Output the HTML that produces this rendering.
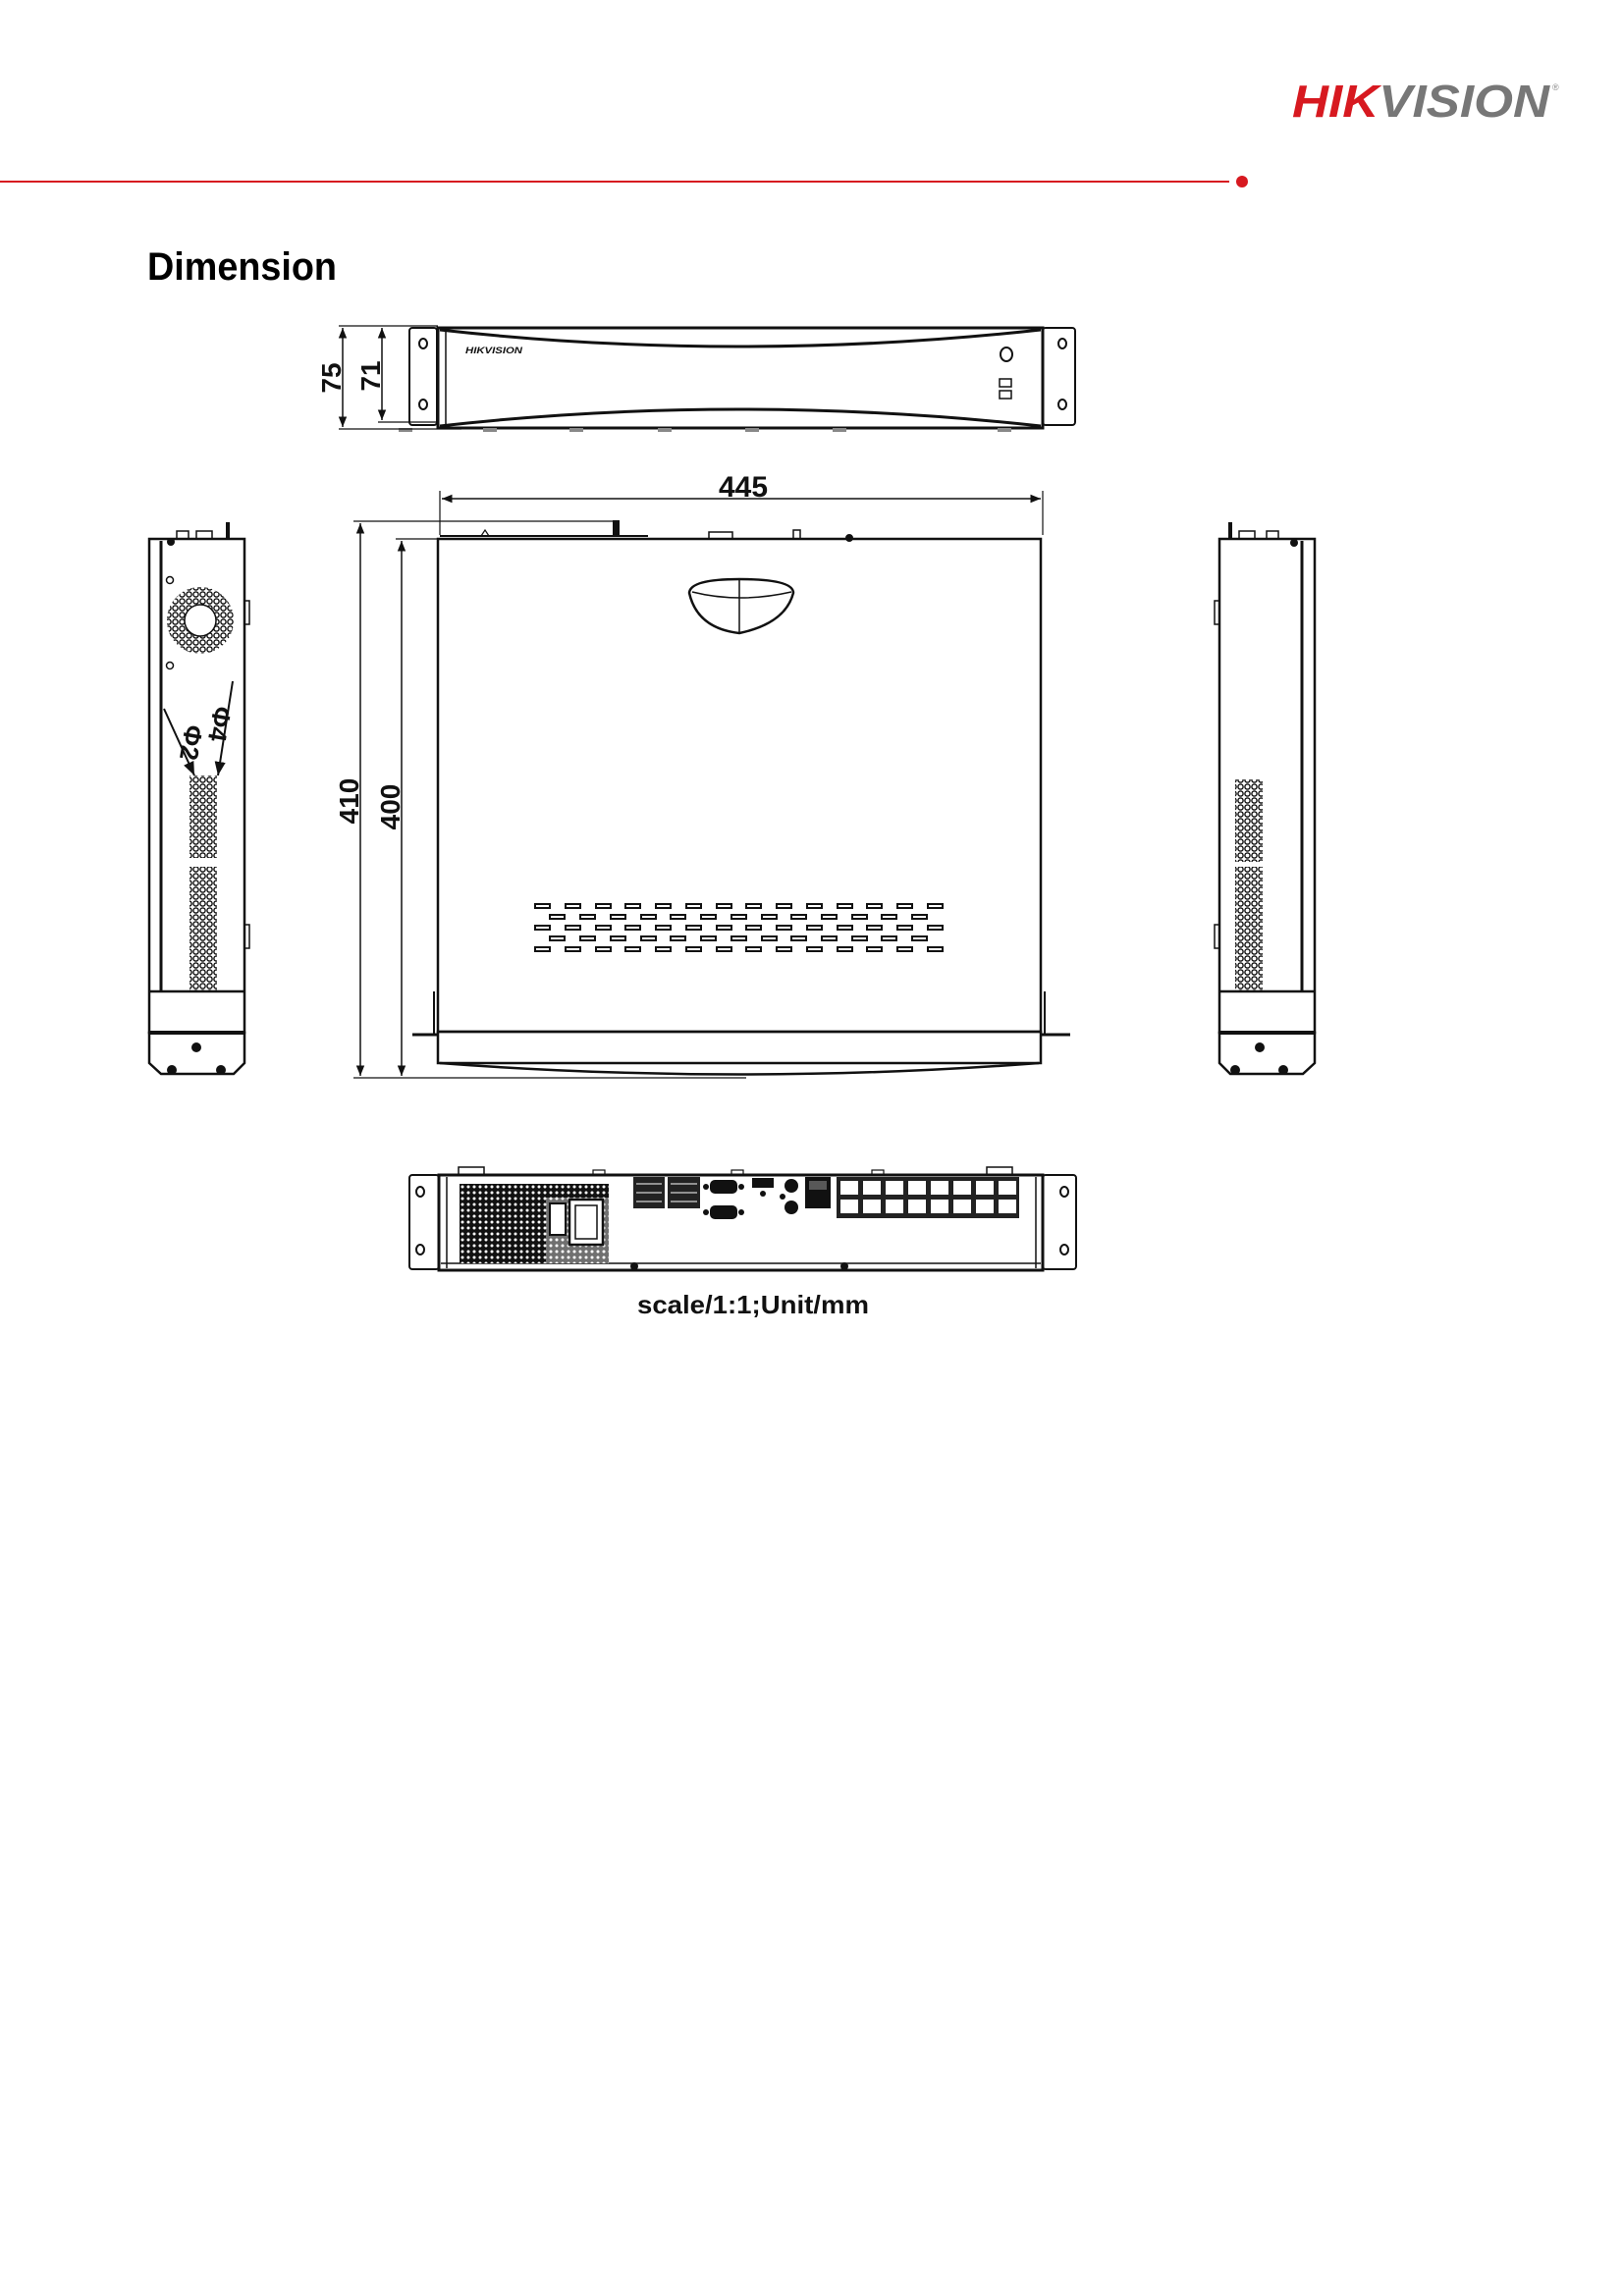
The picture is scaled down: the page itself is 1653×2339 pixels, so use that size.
<!DOCTYPE html>
<html><head><meta charset="utf-8"><style>
html,body{margin:0;padding:0;background:#fff;}
svg{display:block;}
</style></head><body>
<svg width="1653" height="2339" viewBox="0 0 1653 2339" xmlns="http://www.w3.org/2000/svg" font-family="Liberation Sans, Arial, sans-serif">
<defs>
<pattern id="holes" x="0" y="0" width="7" height="7" patternUnits="userSpaceOnUse">
<circle cx="3.5" cy="3.5" r="2.6" fill="none" stroke="#111" stroke-width="1.4"/>
</pattern>
<pattern id="psu" x="0" y="0" width="6" height="6" patternUnits="userSpaceOnUse">
<rect width="6" height="6" fill="#111"/><circle cx="3" cy="3" r="1.5" fill="#fff"/>
</pattern>
<marker id="ah" viewBox="0 0 10 10" refX="10" refY="5" markerWidth="7" markerHeight="7" orient="auto-start-reverse"><path d="M0,1 L10,5 L0,9 z" fill="#111"/></marker>
</defs>

<text x="1316" y="119" font-size="46" font-weight="bold" font-style="italic" textLength="262" lengthAdjust="spacingAndGlyphs"><tspan fill="#d71920">HIK</tspan><tspan fill="#777">VISION</tspan></text>
<text x="1581" y="92" font-size="9" fill="#888">®</text>

<line x1="0" y1="185" x2="1252" y2="185" stroke="#d71920" stroke-width="2"/>
<circle cx="1265" cy="185" r="6" fill="#d71920"/>

<text x="150" y="285" font-size="40" font-weight="bold" fill="#000" textLength="193" lengthAdjust="spacingAndGlyphs">Dimension</text>

<g stroke="#111" fill="none" stroke-width="2">
<rect x="417" y="334" width="28" height="99" rx="3"/>
<rect x="1062" y="334" width="33" height="99" rx="3"/>
<ellipse cx="431" cy="350" rx="4" ry="5"/><ellipse cx="431" cy="412" rx="4" ry="5"/>
<ellipse cx="1082" cy="350" rx="4" ry="5"/><ellipse cx="1082" cy="412" rx="4" ry="5"/>
<rect x="446" y="334" width="616" height="102" stroke-width="3"/>
<path d="M448,336 Q750,370 1060,336" stroke-width="3"/>
<path d="M448,434 Q750,400 1060,434" stroke-width="3"/>
<line x1="454" y1="336" x2="454" y2="434" stroke-width="1.5"/>
<ellipse cx="1025" cy="361" rx="6" ry="7"/>
<rect x="1018" y="386" width="12" height="8" stroke-width="1.5"/><rect x="1018" y="398" width="12" height="8" stroke-width="1.5"/>
<g fill="#888" stroke="none"><rect x="406" y="436" width="14" height="4"/><rect x="492" y="436" width="14" height="4"/><rect x="580" y="436" width="14" height="4"/><rect x="670" y="436" width="14" height="4"/><rect x="759" y="436" width="14" height="4"/><rect x="848" y="436" width="14" height="4"/><rect x="1016" y="436" width="14" height="4"/></g>
<line x1="345" y1="332" x2="446" y2="332" stroke-width="1.2"/>
<line x1="345" y1="437" x2="470" y2="437" stroke-width="1.2"/>
<line x1="385" y1="430" x2="446" y2="430" stroke-width="1.2"/>
<line x1="349" y1="334" x2="349" y2="435" stroke-width="1.5" marker-start="url(#ah)" marker-end="url(#ah)"/>
<line x1="389" y1="334" x2="389" y2="428" stroke-width="1.5" marker-start="url(#ah)" marker-end="url(#ah)"/>
</g>
<text x="474" y="360" font-size="9" font-weight="bold" font-style="italic" fill="#111" textLength="58" lengthAdjust="spacingAndGlyphs">HIKVISION</text>
<text transform="translate(347,385) rotate(-90)" font-size="28" font-weight="bold" text-anchor="middle" fill="#111">75</text>
<text transform="translate(387,383) rotate(-90)" font-size="28" font-weight="bold" text-anchor="middle" fill="#111">71</text>

<g stroke="#111" fill="none" stroke-width="2">
<line x1="448" y1="500" x2="448" y2="545" stroke-width="1.2"/>
<line x1="1062" y1="500" x2="1062" y2="545" stroke-width="1.2"/>
<line x1="450" y1="508" x2="1060" y2="508" stroke-width="1.5" marker-start="url(#ah)" marker-end="url(#ah)"/>
<line x1="360" y1="531" x2="630" y2="531" stroke-width="1.2"/>
<line x1="403" y1="549" x2="446" y2="549" stroke-width="1.2"/>
<line x1="360" y1="1098" x2="760" y2="1098" stroke-width="1.2"/>
<line x1="367" y1="533" x2="367" y2="1096" stroke-width="1.5" marker-start="url(#ah)" marker-end="url(#ah)"/>
<line x1="409" y1="551" x2="409" y2="1096" stroke-width="1.5" marker-start="url(#ah)" marker-end="url(#ah)"/>
<rect x="446" y="549" width="614" height="502" stroke-width="2.5"/>
<rect x="446" y="1051" width="614" height="32" stroke-width="2.5"/>
<path d="M448,1083 Q753,1106 1058,1083" stroke-width="2.5"/>
<line x1="420" y1="1054" x2="446" y2="1054" stroke-width="3"/><line x1="1060" y1="1054" x2="1090" y2="1054" stroke-width="3"/>
<line x1="442" y1="1010" x2="442" y2="1054" stroke-width="2"/><line x1="1064" y1="1010" x2="1064" y2="1054" stroke-width="2"/>
<line x1="448" y1="546" x2="660" y2="546" stroke-width="2"/>
<rect x="625" y="531" width="5" height="15" fill="#111"/>
<path d="M490,546 L494,540 L498,546" stroke-width="1.2"/>
<rect x="722" y="542" width="24" height="7" stroke-width="1.5"/>
<rect x="808" y="540" width="7" height="9" stroke-width="1.5"/>
<circle cx="865" cy="548" r="3" fill="#111"/>
<path d="M702,604 Q703,590 753,590 Q808,590 808,604 Q800,635 753,645 Q710,640 702,604 Z" stroke-width="2.5"/>
<path d="M705,603 Q753,615 806,603" stroke-width="1.5"/>
<line x1="753" y1="590" x2="753" y2="645" stroke-width="1.5"/>
</g>
<g fill="none" stroke="#111" stroke-width="2">
<g id="rowA">
<rect x="545" y="921" width="15" height="4"/><rect x="576" y="921" width="15" height="4"/><rect x="607" y="921" width="15" height="4"/><rect x="637" y="921" width="15" height="4"/><rect x="668" y="921" width="15" height="4"/><rect x="699" y="921" width="15" height="4"/><rect x="730" y="921" width="15" height="4"/><rect x="760" y="921" width="15" height="4"/><rect x="791" y="921" width="15" height="4"/><rect x="822" y="921" width="15" height="4"/><rect x="853" y="921" width="15" height="4"/><rect x="883" y="921" width="15" height="4"/><rect x="914" y="921" width="15" height="4"/><rect x="945" y="921" width="15" height="4"/>
</g>
<use href="#rowA" y="22"/>
<use href="#rowA" y="44"/>
<g id="rowB">
<rect x="560" y="932" width="15" height="4"/><rect x="591" y="932" width="15" height="4"/><rect x="622" y="932" width="15" height="4"/><rect x="653" y="932" width="15" height="4"/><rect x="683" y="932" width="15" height="4"/><rect x="714" y="932" width="15" height="4"/><rect x="745" y="932" width="15" height="4"/><rect x="776" y="932" width="15" height="4"/><rect x="806" y="932" width="15" height="4"/><rect x="837" y="932" width="15" height="4"/><rect x="868" y="932" width="15" height="4"/><rect x="898" y="932" width="15" height="4"/><rect x="929" y="932" width="15" height="4"/>
</g>
<use href="#rowB" y="22"/>
</g>
<text transform="translate(365,816) rotate(-90)" font-size="28" font-weight="bold" text-anchor="middle" fill="#111">410</text>
<text transform="translate(407,822) rotate(-90)" font-size="28" font-weight="bold" text-anchor="middle" fill="#111">400</text>
<text x="757" y="506" font-size="30" font-weight="bold" text-anchor="middle" fill="#111" textLength="50" lengthAdjust="spacingAndGlyphs">445</text>

<g stroke="#111" fill="none" stroke-width="2.5">
<rect x="152" y="549" width="97" height="503"/>
<line x1="164" y1="551" x2="164" y2="1010" stroke-width="3"/>
<line x1="152" y1="1010" x2="249" y2="1010"/>
<path d="M152,1052 L249,1052 L249,1083 L238,1094 L164,1094 L152,1083 Z"/>
<line x1="152" y1="1052" x2="249" y2="1052" stroke-width="4"/>
<rect x="249" y="612" width="5" height="24" stroke-width="1.5"/><rect x="249" y="942" width="5" height="24" stroke-width="1.5"/>
<rect x="180" y="541" width="12" height="8" stroke-width="1.5"/><rect x="200" y="541" width="16" height="8" stroke-width="1.5"/>
<line x1="232" y1="532" x2="232" y2="549" stroke-width="4"/>
<circle cx="173" cy="591" r="3.5" stroke-width="1.5"/>
<circle cx="173" cy="678" r="3.5" stroke-width="1.5"/>
</g>
<circle cx="204" cy="632" r="25" fill="none" stroke="url(#holes)" stroke-width="18"/>
<circle cx="204" cy="632" r="16" fill="none" stroke="#111" stroke-width="1.5"/>
<circle cx="174" cy="552" r="4" fill="#111"/>
<rect x="193" y="790" width="28" height="84" fill="url(#holes)"/>
<rect x="193" y="883" width="28" height="127" fill="url(#holes)"/>
<circle cx="200" cy="1067" r="5" fill="#111"/><circle cx="175" cy="1090" r="5" fill="#111"/><circle cx="225" cy="1090" r="5" fill="#111"/>
<g stroke="#111" stroke-width="2">
<line x1="167" y1="722" x2="198" y2="790" marker-end="url(#ah)"/>
<line x1="237" y1="694" x2="222" y2="790" marker-end="url(#ah)"/>
</g>
<text transform="translate(186,755) rotate(100)" font-size="26" font-weight="bold" text-anchor="middle" fill="#111">Φ2</text>
<text transform="translate(215,736) rotate(100)" font-size="26" font-weight="bold" text-anchor="middle" fill="#111">Φ4</text>

<g stroke="#111" fill="none" stroke-width="2.5">
<rect x="1242" y="549" width="97" height="503"/>
<line x1="1326" y1="551" x2="1326" y2="1010" stroke-width="3"/>
<line x1="1242" y1="1010" x2="1339" y2="1010"/>
<path d="M1242,1052 L1339,1052 L1339,1083 L1327,1094 L1253,1094 L1242,1083 Z"/>
<line x1="1242" y1="1052" x2="1339" y2="1052" stroke-width="4"/>
<rect x="1237" y="612" width="5" height="24" stroke-width="1.5"/><rect x="1237" y="942" width="5" height="24" stroke-width="1.5"/>
<rect x="1262" y="541" width="16" height="8" stroke-width="1.5"/><rect x="1290" y="541" width="12" height="8" stroke-width="1.5"/>
<line x1="1253" y1="532" x2="1253" y2="549" stroke-width="4"/>
</g>
<circle cx="1318" cy="553" r="4" fill="#111"/>
<rect x="1258" y="794" width="28" height="84" fill="url(#holes)"/>
<rect x="1258" y="883" width="28" height="127" fill="url(#holes)"/>
<circle cx="1283" cy="1067" r="5" fill="#111"/><circle cx="1258" cy="1090" r="5" fill="#111"/><circle cx="1307" cy="1090" r="5" fill="#111"/>

<g stroke="#111" fill="none" stroke-width="2">
<rect x="417" y="1197" width="30" height="96" rx="3"/>
<rect x="1062" y="1197" width="34" height="96" rx="3"/>
<ellipse cx="428" cy="1214" rx="4" ry="5"/><ellipse cx="428" cy="1273" rx="4" ry="5"/>
<ellipse cx="1084" cy="1214" rx="4" ry="5"/><ellipse cx="1084" cy="1273" rx="4" ry="5"/>
<rect x="447" y="1197" width="615" height="97" stroke-width="3"/>
<line x1="455" y1="1199" x2="455" y2="1292" stroke-width="1.5"/><line x1="1055" y1="1199" x2="1055" y2="1292" stroke-width="1.5"/>
<line x1="449" y1="1287" x2="1060" y2="1287" stroke-width="1.5"/>
<rect x="467" y="1189" width="26" height="8" stroke-width="1.5"/><rect x="1005" y="1189" width="26" height="8" stroke-width="1.5"/>
<rect x="604" y="1192" width="12" height="5" stroke-width="1.2"/><rect x="745" y="1192" width="12" height="5" stroke-width="1.2"/><rect x="888" y="1192" width="12" height="5" stroke-width="1.2"/>
</g>
<rect x="468" y="1206" width="152" height="81" fill="url(#psu)"/>
<rect x="556" y="1220" width="64" height="67" fill="#fff"/>
<rect x="556" y="1220" width="64" height="67" fill="url(#psu)" opacity="0.6"/>
<rect x="560" y="1226" width="16" height="32" fill="#fff" stroke="#111" stroke-width="2"/>
<rect x="580" y="1222" width="34" height="46" fill="#fff" stroke="#111" stroke-width="2.5"/>
<path d="M586,1228 L608,1228 L608,1262 L586,1262 Z" fill="none" stroke="#111" stroke-width="1.5"/>
<circle cx="646" cy="1290" r="4" fill="#111"/><circle cx="860" cy="1290" r="4" fill="#111"/>
<rect x="645" y="1199" width="32" height="32" fill="#222"/><rect x="680" y="1199" width="33" height="32" fill="#222"/>
<g stroke="#fff" stroke-width="1"><line x1="648" y1="1206" x2="674" y2="1206"/><line x1="648" y1="1215" x2="674" y2="1215"/><line x1="648" y1="1224" x2="674" y2="1224"/><line x1="683" y1="1206" x2="710" y2="1206"/><line x1="683" y1="1215" x2="710" y2="1215"/><line x1="683" y1="1224" x2="710" y2="1224"/></g>
<g fill="#111"><rect x="723" y="1202" width="28" height="14" rx="5"/><circle cx="719" cy="1209" r="3"/><circle cx="755" cy="1209" r="3"/>
<rect x="723" y="1228" width="28" height="14" rx="5"/><circle cx="719" cy="1235" r="3"/><circle cx="755" cy="1235" r="3"/>
<rect x="766" y="1200" width="22" height="10"/><circle cx="777" cy="1216" r="3"/>
<circle cx="806" cy="1208" r="7"/><circle cx="806" cy="1230" r="7"/><circle cx="797" cy="1219" r="3"/>
<rect x="820" y="1199" width="26" height="32"/></g>
<rect x="824" y="1203" width="18" height="9" fill="#fff" opacity="0.3"/>
<rect x="852" y="1199" width="186" height="42" fill="#222"/>
<g fill="#fff">
<rect x="856" y="1203" width="18" height="14"/><rect x="879" y="1203" width="18" height="14"/><rect x="902" y="1203" width="18" height="14"/><rect x="925" y="1203" width="18" height="14"/><rect x="948" y="1203" width="18" height="14"/><rect x="971" y="1203" width="18" height="14"/><rect x="994" y="1203" width="18" height="14"/><rect x="1017" y="1203" width="18" height="14"/>
<rect x="856" y="1222" width="18" height="14"/><rect x="879" y="1222" width="18" height="14"/><rect x="902" y="1222" width="18" height="14"/><rect x="925" y="1222" width="18" height="14"/><rect x="948" y="1222" width="18" height="14"/><rect x="971" y="1222" width="18" height="14"/><rect x="994" y="1222" width="18" height="14"/><rect x="1017" y="1222" width="18" height="14"/>
</g>

<text x="767" y="1338" font-size="26" font-weight="bold" text-anchor="middle" fill="#111" textLength="236" lengthAdjust="spacingAndGlyphs">scale/1:1;Unit/mm</text>
</svg>
</body></html>
